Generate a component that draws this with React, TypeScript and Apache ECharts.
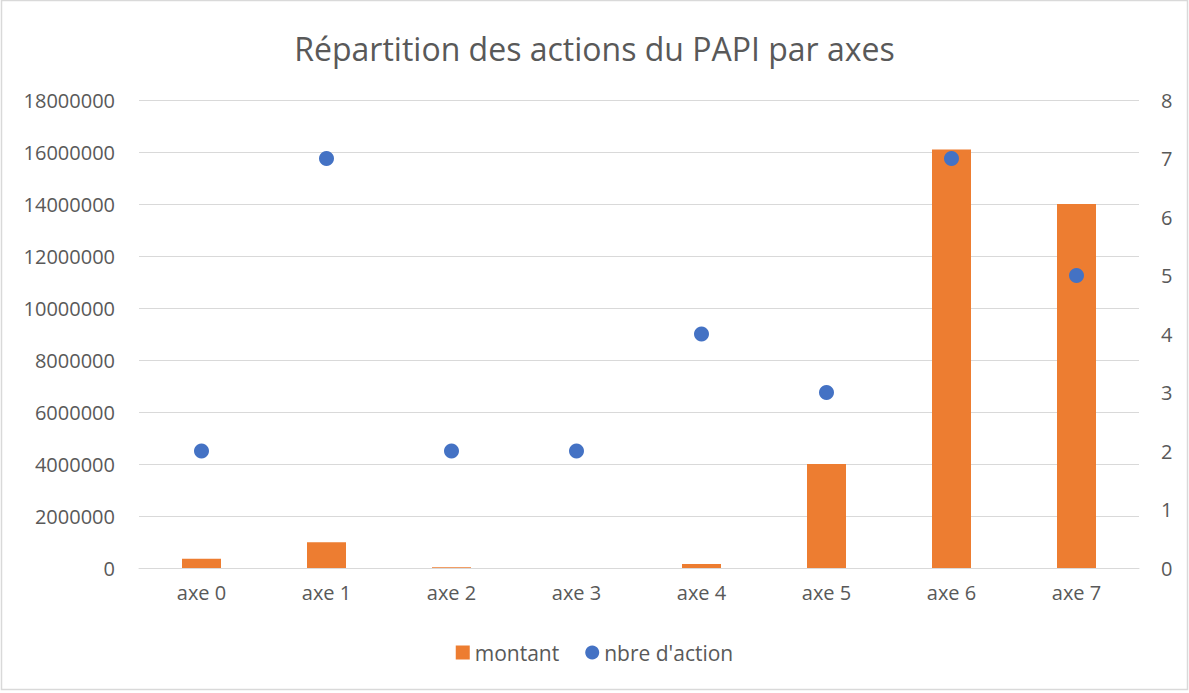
import React, { useEffect, useRef } from "react";
import * as echarts from "echarts";

const categories = ["axe 0", "axe 1", "axe 2", "axe 3", "axe 4", "axe 5", "axe 6", "axe 7"];
const montant = [360000, 990000, 30000, 0, 150000, 4000000, 16100000, 14000000];
const nbreAction = [2, 7, 2, 2, 4, 3, 7, 5];

const FONT = "'Open Sans', sans-serif";
const TEXT = "#595959";

export default function App() {
  const ref = useRef<HTMLDivElement>(null);
  useEffect(() => {
    const chart = echarts.init(ref.current!, null, { renderer: "svg" });
    chart.setOption({
      animation: false,
      backgroundColor: "#ffffff",
      textStyle: { fontFamily: FONT },
      title: {
        text: "Répartition des actions du PAPI par axes",
        left: "center",
        top: 27,
        textStyle: { fontFamily: FONT, fontSize: 32, fontWeight: "normal", color: TEXT },
      },
      graphic: [
        {
          type: "rect",
          shape: { x: 1.5, y: 0.5, width: 1186, height: 689 },
          style: { fill: "none", stroke: "#D9D9D9", lineWidth: 1.5 },
          silent: true,
        },
      ],
      legend: {
        bottom: 25,
        left: "center",
        itemGap: 26,
        itemWidth: 14,
        itemHeight: 14,
        textStyle: { fontFamily: FONT, fontSize: 21, color: TEXT },
        data: [
          { name: "montant", icon: "rect" },
          { name: "nbre d'action", icon: "circle" },
        ],
      },
      grid: { left: 139, right: 50, top: 100, bottom: 125, containLabel: false },
      xAxis: {
        type: "category",
        data: categories,
        axisLine: { lineStyle: { color: "#D9D9D9", width: 1 } },
        axisTick: { show: false },
        axisLabel: { fontFamily: FONT, fontSize: 20, color: TEXT, margin: 14 },
      },
      yAxis: [
        {
          type: "value",
          min: 0,
          max: 18000000,
          interval: 2000000,
          axisLine: { show: false },
          axisTick: { show: false },
          splitLine: { lineStyle: { color: "#D9D9D9", width: 1 } },
          axisLabel: {
            fontFamily: FONT,
            fontSize: 20,
            color: TEXT,
            margin: 24,
            formatter: (v: number) => String(v),
          },
        },
        {
          type: "value",
          min: 0,
          max: 8,
          interval: 1,
          axisLine: { show: false },
          axisTick: { show: false },
          splitLine: { show: false },
          axisLabel: { fontFamily: FONT, fontSize: 20, color: TEXT, margin: 22 },
        },
      ],
      series: [
        {
          name: "montant",
          type: "bar",
          data: montant,
          barWidth: 39,
          yAxisIndex: 0,
          itemStyle: { color: "#ED7D31" },
        },
        {
          name: "nbre d'action",
          type: "scatter",
          data: nbreAction,
          yAxisIndex: 1,
          symbol: "circle",
          symbolSize: 15,
          itemStyle: { color: "#4472C4", opacity: 1 },
        },
      ],
    });
    return () => chart.dispose();
  }, []);
  return (
    <div
      ref={ref}
      style={{ position: "absolute", left: 0, top: 0, width: 1189, height: 693 }}
    />
  );
}
